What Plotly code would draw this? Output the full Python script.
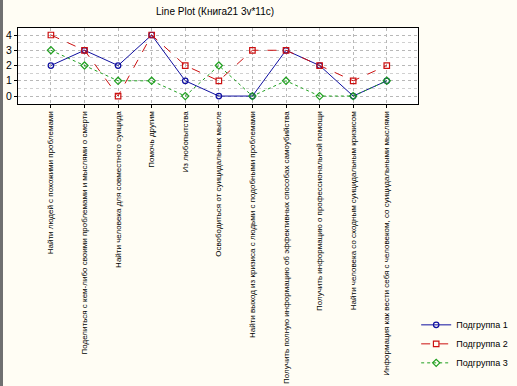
import plotly.graph_objects as go

categories = [
    "Найти людей с похожими проблемами",
    "Поделиться с кем-либо своими проблемами и мыслями о смерти",
    "Найти человека для совместного суицида",
    "Помочь другим",
    "Из любопытства",
    "Освободиться от суицидальных мысле",
    "Найти выход из кризиса с людьми с подобными проблемами",
    "Получить полную информацию об эффективных способах самоубийства",
    "Получить информацию о профессиональной помощи",
    "Найти человека со сходным суицидальным кризисом",
    "Информация как вести себя с человеком, со суицидальными мыслями",
]
group1 = [2, 3, 2, 4, 1, 0, 0, 3, 2, 0, 1]
group2 = [4, 3, 0, 4, 2, 1, 3, 3, 2, 1, 2]
group3 = [3, 2, 1, 1, 0, 2, 0, 1, 0, 0, 1]
series_names = ["Подгруппа 1", "Подгруппа 2", "Подгруппа 3"]
y_ticks = [0, 1, 2, 3, 4]

fig = go.Figure()
styles = [
    dict(color="#1010A0", dash="solid", symbol="circle-open"),
    dict(color="#CC1010", dash="dash", symbol="square-open"),
    dict(color="#20A020", dash="dot", symbol="diamond-open"),
]
for vals, name, st in zip([group1, group2, group3], series_names, styles):
    fig.add_trace(go.Scatter(
        x=list(range(len(categories))), y=vals, name=name, mode="lines+markers",
        line=dict(color=st["color"], dash=st["dash"], width=1),
        marker=dict(symbol=st["symbol"], size=5.5, color=st["color"], line=dict(width=1.2, color=st["color"])),
    ))

fig.update_layout(
    width=517, height=386,
    margin=dict(l=18, r=99, t=28, b=282, autoexpand=False),
    paper_bgcolor="#FFFDF4",
    plot_bgcolor="#FFFFFF",
    font=dict(family="Liberation Sans, Arial, sans-serif", color="black"),
    title=dict(text="Line Plot (Книга21 3v*11c)", x=0.416, xanchor="center", y=0.978, yanchor="top",
               font=dict(size=10)),
    showlegend=True,
    legend=dict(xref="container", yref="container", x=0.805, y=0.196, xanchor="left", yanchor="top",
                bgcolor="rgba(0,0,0,0)", font=dict(size=9), itemwidth=30, tracegroupgap=0),
)
fig.update_xaxes(
    automargin=False,
    range=[-0.98, 10.93],
    tickmode="array", tickvals=list(range(len(categories))), ticktext=categories,
    tickangle=-90, tickfont=dict(size=8),
    ticks="outside", ticklen=3, tickcolor="black",
    showgrid=True, gridcolor="#B8B8B8", griddash="dot", gridwidth=1,
    showline=True, linecolor="black", linewidth=1, mirror=True, zeroline=False,
)
fig.update_yaxes(
    automargin=False,
    range=[-0.52, 4.46],
    tickmode="array", tickvals=y_ticks, tickfont=dict(size=10.5),
    ticks="outside", ticklen=3, tickcolor="black",
    showgrid=True, gridcolor="#B8B8B8", griddash="dot", gridwidth=1,
    minor=dict(dtick=0.5, showgrid=True, gridcolor="#D0D0D0", griddash="dot"),
    showline=True, linecolor="black", linewidth=1, mirror=True, zeroline=False,
)
fig.add_shape(type="rect", xref="paper", yref="paper",
              x0=-18/400, x1=-15/400, y0=-282/76, y1=1+28/76,
              fillcolor="#707070", line=dict(width=0), layer="above")

fig.write_html("out.html", config={"displayModeBar": False},
               post_script="document.body.style.margin='0';document.body.style.padding='0';"
                           "document.body.style.overflow='hidden';")
